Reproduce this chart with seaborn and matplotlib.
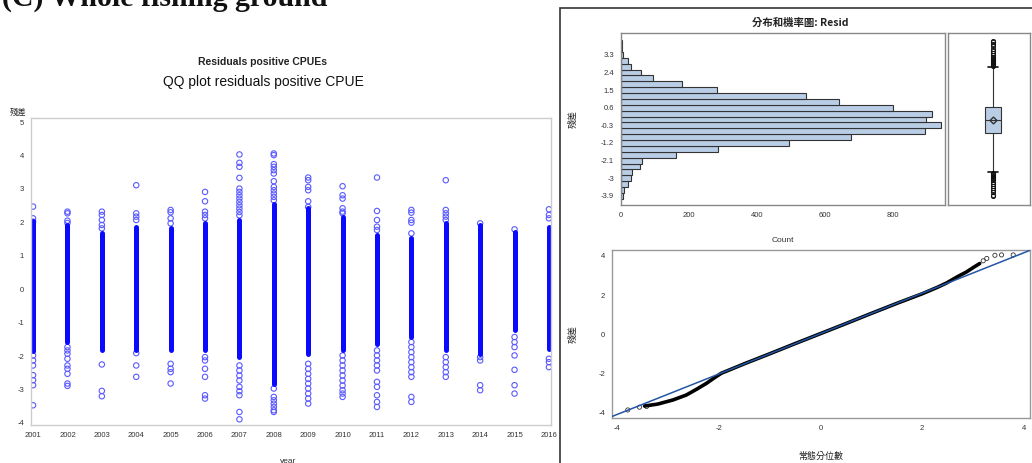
#!/usr/bin/env python3
"""Residual diagnostics panel: residuals by year, distribution + boxplot, QQ plot."""
import numpy as np
import pandas as pd
import matplotlib
matplotlib.use('Agg')
import matplotlib.pyplot as plt
import seaborn as sns
from matplotlib.ticker import MultipleLocator
from matplotlib.patches import Rectangle

# ---- residuals by year (dense band of circles + separately visible circles) ----
years = list(range(2001, 2017))
core_lo = [-1.85, -1.58, -1.83, -1.83, -1.83, -1.83, -2.03, -2.82, -1.93, -1.83, -1.63, -1.43, -1.83, -1.93, -1.23, -1.78]
core_hi = [2.05, 1.92, 1.67, 1.87, 1.82, 1.97, 2.07, 2.56, 2.42, 2.17, 1.62, 1.52, 1.97, 1.92, 1.72, 1.87]
outliers = {
    2001: [2.47, 2.12, 2.02, -1.98, -2.13, -2.28, -2.57, -2.72, -2.87, -3.47],
    2002: [2.32, 2.27, 2.05, 1.98, -1.73, -1.83, -1.93, -2.08, -2.28, -2.38, -2.53, -2.82, -2.89],
    2003: [2.32, 2.22, 2.07, 1.92, 1.82, -2.25, -3.04, -3.2],
    2004: [3.11, 2.27, 2.17, 2.07, -1.91, -2.28, -2.62],
    2005: [2.37, 2.3, 2.12, 1.97, -2.23, -2.38, -2.48, -2.82],
    2006: [2.91, 2.63, 2.32, 2.22, 2.12, -2.03, -2.13, -2.38, -2.62, -3.17, -3.27],
    2007: [4.03, 3.78, 3.66, 3.33, 3.01, 2.91, 2.81, 2.71, 2.61, 2.51, 2.41, 2.31, 2.21,
           -2.28, -2.43, -2.58, -2.73, -2.92, -3.05, -3.17, -3.67, -3.89],
    2008: [4.06, 4.01, 3.74, 3.66, 3.56, 3.46, 3.23, 3.06, 2.96, 2.86, 2.76, 2.66,
           -2.97, -3.22, -3.32, -3.42, -3.52, -3.62, -3.67],
    2009: [3.34, 3.26, 3.06, 2.96, 2.63, 2.46, -2.23, -2.38, -2.53, -2.68, -2.82, -2.97, -3.12, -3.27, -3.42],
    2010: [3.08, 2.81, 2.71, 2.42, 2.32, 2.27, -1.98, -2.13, -2.28, -2.43, -2.58, -2.73, -2.88, -3.02, -3.12, -3.22],
    2011: [3.34, 2.34, 2.07, 1.87, 1.77, -1.83, -1.98, -2.13, -2.28, -2.43, -2.77, -2.92, -3.17, -3.37, -3.52],
    2012: [2.37, 2.29, 2.07, 1.99, 1.67, -1.58, -1.73, -1.88, -2.03, -2.18, -2.33, -2.48, -2.62, -3.22, -3.37],
    2013: [3.26, 2.37, 2.27, 2.17, 2.07, -2.03, -2.18, -2.33, -2.48, -2.62],
    2014: [1.97, -2.03, -2.13, -2.87, -3.02],
    2015: [1.79, -1.43, -1.58, -1.73, -1.98, -2.41, -2.87, -3.12],
    2016: [2.39, 2.22, 2.12, -2.08, -2.18, -2.33],
}

# ---- histogram of residuals (bin midpoints, counts) ----
hist_mid = [3.9, 3.6, 3.3, 3.0, 2.7, 2.4, 2.1, 1.8, 1.5, 1.2, 0.9, 0.6, 0.3, 0.0,
            -0.3, -0.6, -0.9, -1.2, -1.5, -1.8, -2.1, -2.4, -2.7, -3.0, -3.3, -3.6, -3.9]
hist_count = [2, 4, 6, 21, 29, 60, 95, 180, 282, 543, 641, 800, 916, 898,
              942, 893, 676, 493, 284, 162, 63, 55, 32, 28, 20, 10, 5]
hist_ticks = [3.3, 2.4, 1.5, 0.6, -0.3, -1.2, -2.1, -3, -3.9]

# ---- boxplot summary ----
box_q1, box_med, box_q3, box_mean = -0.69, -0.02, 0.66, -0.02
whisk_lo, whisk_hi = -2.7, 2.68
fliers_hi = [2.75, 2.8, 2.85, 2.9, 2.95, 3.0, 3.05, 3.1, 3.15, 3.2, 3.3, 3.4, 3.5, 3.6, 3.75, 3.87, 3.95, 4.02]
fliers_lo = [-2.75, -2.8, -2.85, -2.9, -2.95, -3.0, -3.05, -3.1, -3.2, -3.3, -3.4, -3.5, -3.6, -3.72, -3.85, -3.93]

# ---- QQ plot ----
qq_x = [-3.46, -3.2, -2.9, -2.64, -2.44, -2.24, -2.08, -1.95, -1.5, -1.0, -0.5, 0.0,
        0.5, 1.0, 1.5, 2.0, 2.3, 2.48, 2.7, 2.87, 3.0, 3.13]
qq_y = [-3.65, -3.55, -3.34, -3.09, -2.8, -2.49, -2.2, -1.98, -1.5, -0.99, -0.47, 0.04,
        0.55, 1.07, 1.58, 2.07, 2.4, 2.62, 2.95, 3.18, 3.4, 3.61]
qq_tail_x = [-3.79, -3.56, -3.42, 3.2, 3.27, 3.43, 3.56, 3.79]
qq_tail_y = [-3.85, -3.71, -3.67, 3.75, 3.87, 4.03, 4.05, 4.05]
ref_icpt, ref_slope = 0.04, 1.03

sns.set_style('white')
plt.rcParams['font.family'] = ['Liberation Sans', 'Noto Sans CJK TC', 'DejaVu Sans']
plt.rcParams['axes.unicode_minus'] = False
CJK = ['Noto Sans CJK TC', 'DejaVu Sans']
W, H = 1032, 463

fig = plt.figure(figsize=(10.32, 4.63), dpi=100)


def box(x0, y0, x1, y1):
    return [x0 / W, 1 - y1 / H, (x1 - x0) / W, (y1 - y0) / H]


def style_axis(ax, spine='#999999'):
    for s in ax.spines.values():
        s.set_color(spine)
        s.set_linewidth(1.0)
    ax.tick_params(which='both', direction='out', colors='#666666', labelcolor='#333333',
                   labelsize=5.5, width=0.6, length=3, pad=2)
    ax.tick_params(which='minor', length=1.5)
    ax.set_xlabel('')
    ax.set_ylabel('')


# header text (clipped at the top as in the screenshot)
fig.text(0.002, 1 - 6 / H, '(C) Whole fishing ground', fontsize=21.5, weight='bold',
         family='Liberation Serif', va='baseline', ha='left', color='#111111')

# ---------- left: residuals by year ----------
ax = fig.add_axes(box(31, 118, 551, 425))
lc = ax.vlines(years, core_lo, core_hi, color='#0a0aff', lw=3.6)
lc.set_capstyle('round')
out_df = pd.DataFrame([(y, r) for y, vals in outliers.items() for r in vals], columns=['year', 'resid'])
sns.scatterplot(data=out_df, x='year', y='resid', ax=ax, marker='o', s=15,
                facecolor='none', edgecolor='#5a5aff', linewidth=0.8, legend=False)
ax.set_xlim(2000.94, 2016.06)
ax.set_ylim(-4.06, 5.12)
ax.set_xticks(years)
ax.set_yticks(range(-4, 6))
ax.xaxis.set_minor_locator(MultipleLocator(0.2))
ax.yaxis.set_minor_locator(MultipleLocator(0.2))
style_axis(ax, spine='#cccccc')
ax.set_xlabel('year', fontsize=6, color='#333333')
ax.xaxis.set_label_coords((288 - 31) / 520, (425 - 458) / 307)
fig.text(18 / W, 1 - 112 / H, '殘差', fontsize=6, ha='center', va='center', family=CJK, color='#222222')
fig.text(262 / W, 1 - 62 / H, 'Residuals positive CPUEs', fontsize=7.5, weight='bold',
         ha='center', va='center', color='#222222')
fig.text(263 / W, 1 - 82 / H, 'QQ plot residuals positive CPUE', fontsize=10,
         ha='center', va='center', color='#111111')

# ---------- right: frame ----------
fig.add_artist(Rectangle((560 / W, -0.02), (W - 560) / W + 0.02, (463 - 8) / H + 0.02,
                         transform=fig.transFigure, fill=False, ec='#333333', lw=1.2))
fig.text(800 / W, 1 - 23 / H, '分布和機率圖: Resid', fontsize=7.5, weight='bold',
         ha='center', va='center', family=CJK, color='#222222')

# histogram
axh = fig.add_axes(box(621, 33, 945, 205))
hist_df = pd.DataFrame({'mid': hist_mid, 'count': hist_count}).sort_values('mid')
edges = list(np.append(hist_df['mid'].values - 0.15, hist_df['mid'].values[-1] + 0.15))
sns.histplot(data=hist_df, y='mid', weights='count', bins=edges, color='#b9cde5',
             edgecolor='#333333', linewidth=0.8, alpha=1, ax=axh)
axh.set_xlim(0, 953)
axh.set_ylim(-4.37, 4.42)
axh.set_xticks([0, 200, 400, 600, 800])
axh.set_yticks(hist_ticks)
axh.set_yticklabels([f'{t:g}' for t in hist_ticks])
style_axis(axh, spine='#888888')
axh.set_xlabel('Count', fontsize=6, color='#333333')
axh.xaxis.set_label_coords(0.5, (205 - 237) / 172)
axh.set_ylabel('殘差', fontsize=6.5, family=CJK, color='#222222')
axh.yaxis.set_label_coords((578 - 621) / 324, 0.5)

# boxplot
axb = fig.add_axes(box(948, 33, 1030, 205))
stats = [{'q1': box_q1, 'med': box_med, 'q3': box_q3, 'mean': box_mean,
          'whislo': whisk_lo, 'whishi': whisk_hi, 'fliers': fliers_hi + fliers_lo}]
axb.bxp(stats, positions=[0.05], widths=0.19, showmeans=True, patch_artist=True, capwidths=0.12,
        boxprops=dict(facecolor='#b9cde5', edgecolor='#333333', lw=0.8),
        medianprops=dict(color='#333333', lw=0.8),
        whiskerprops=dict(color='#333333', lw=0.8), capprops=dict(color='#111111', lw=1.2),
        meanprops=dict(marker='D', markerfacecolor='none', markeredgecolor='#333333', markersize=3.5),
        flierprops=dict(marker='o', markerfacecolor='none', markeredgecolor='#111111',
                        markersize=3, markeredgewidth=0.7))
axb.set_xlim(-0.5, 0.5)
axb.set_ylim(-4.37, 4.42)
axb.set_xticks([])
axb.set_yticks([])
style_axis(axb, spine='#888888')

# QQ plot
axq = fig.add_axes(box(612, 250, 1030, 418))
sns.lineplot(x=qq_x, y=qq_y, sort=False, color='black', lw=2.6, ax=axq)
sns.scatterplot(x=qq_tail_x, y=qq_tail_y, marker='o', s=9, facecolor='none', edgecolor='#333333',
                linewidth=0.6, ax=axq, legend=False)
axq.axline((0, ref_icpt), slope=ref_slope, color='#2255a4', lw=1.1, zorder=5)
axq.set_xlim(-4.1, 4.12)
axq.set_ylim(-4.26, 4.3)
axq.set_xticks([-4, -2, 0, 2, 4])
axq.set_yticks([-4, -2, 0, 2, 4])
style_axis(axq, spine='#999999')
axq.set_xlabel('常態分位數', fontsize=6.5, family=CJK, color='#222222')
axq.xaxis.set_label_coords(0.5, (418 - 452) / 168)
axq.set_ylabel('殘差', fontsize=6.5, family=CJK, color='#222222')
axq.yaxis.set_label_coords((578 - 612) / 418, 0.5)

fig.savefig('out.png', dpi=100)
